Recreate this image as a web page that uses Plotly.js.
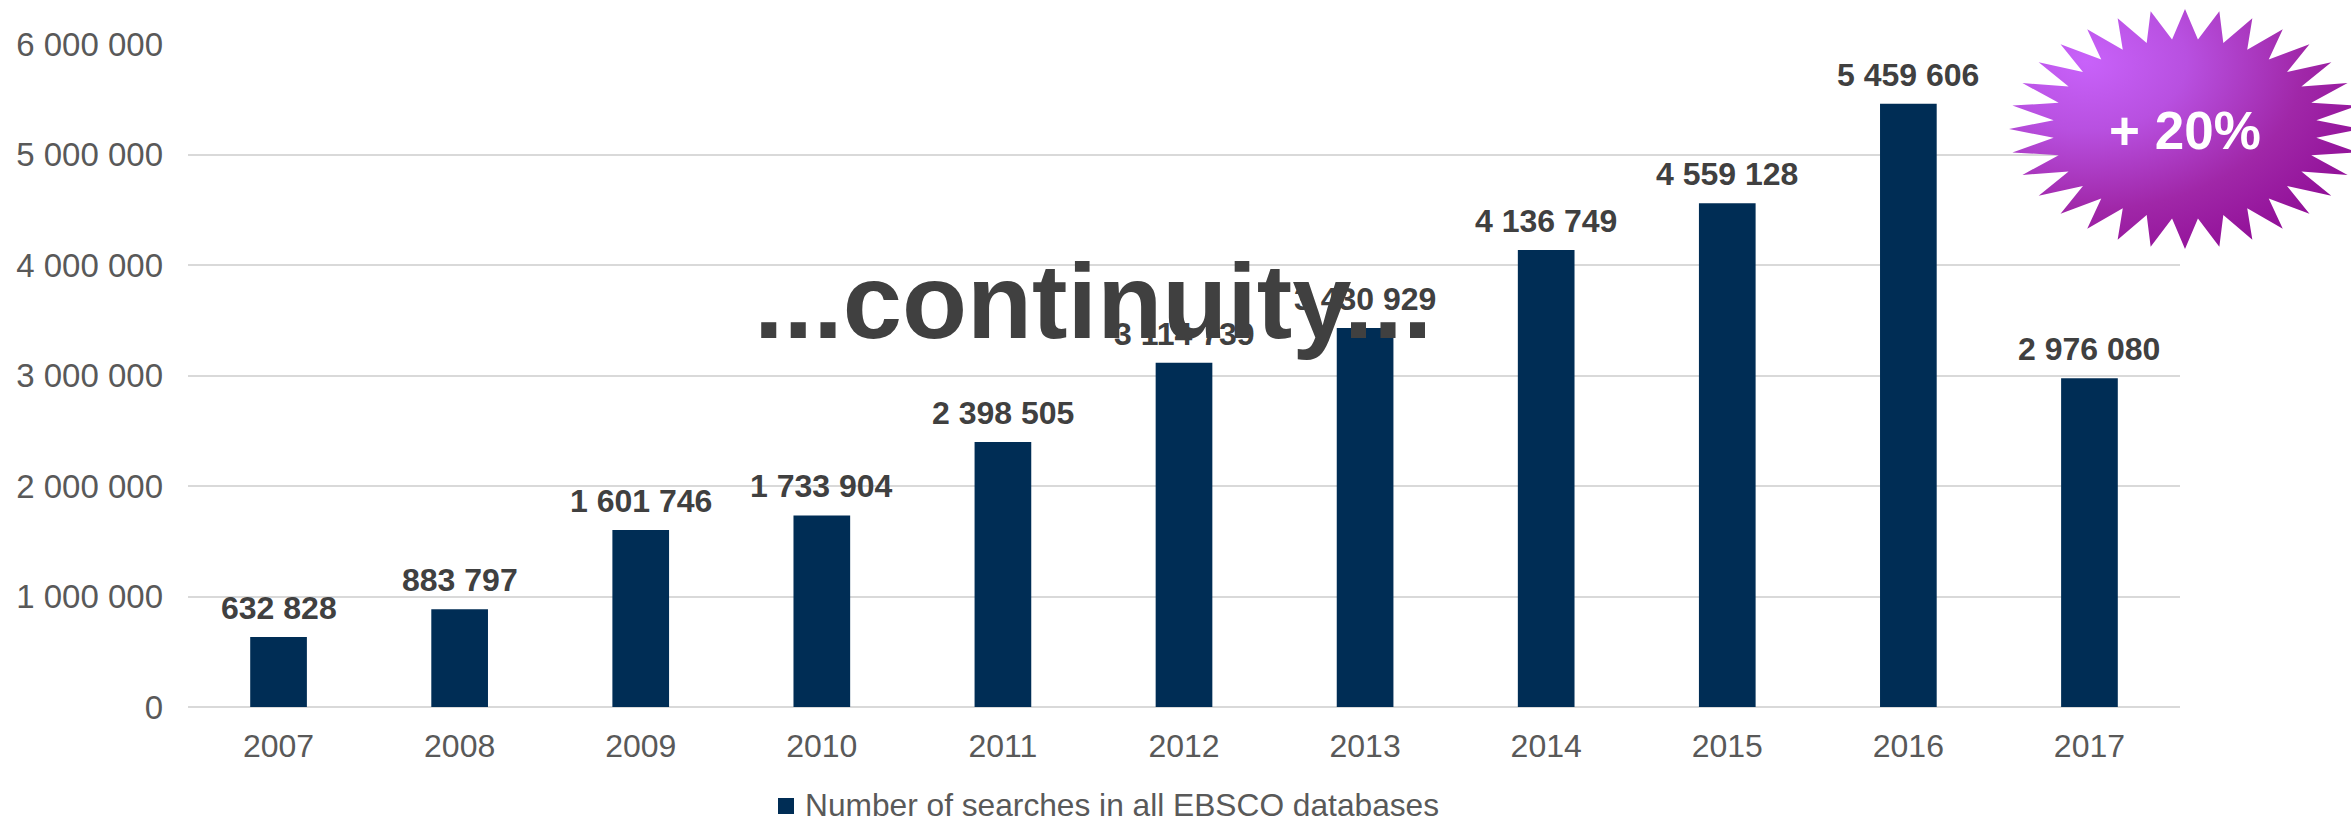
<!DOCTYPE html>
<html><head><meta charset="utf-8">
<script src="https://cdn.plot.ly/plotly-3.0.1.min.js"></script>
<style>html,body{margin:0;padding:0;background:#fff;overflow:hidden}#c{width:2351px;height:819px}</style>
</head><body><div id="c"></div>
<script>
const years = ['2007','2008','2009','2010','2011','2012','2013','2014','2015','2016','2017'];
const searches = [632828,883797,1601746,1733904,2398505,3114739,3430929,4136749,4559128,5459606,2976080];
const seriesName = 'Number of searches in all EBSCO databases';
const yTicks = [0,1000000,2000000,3000000,4000000,5000000,6000000];
const overlayText = '...continuity...';
const badgeText = '+ 20%';

const W=2351,H=819,L=188,R=2351-2180,T=44,B=819-707;
const pw=W-L-R,ph=H-T-B;
const px=x=>(x-L)/pw, py=y=>1-(y-T)/ph;
const fmt=v=>String(v).replace(/\B(?=(\d{3})+$)/g,' ');
const FONT='"Liberation Sans", Arial, sans-serif';

function starSvg(){
  const w=352,h=240,n=32,pts=[];
  for(let i=0;i<2*n;i++){
    const a=Math.PI*i/n, k=i%2?0.75:1;
    pts.push((w/2+k*w/2*Math.sin(a)).toFixed(2)+','+(h/2-k*h/2*Math.cos(a)).toFixed(2));
  }
  const s='<svg xmlns="http://www.w3.org/2000/svg" width="'+w+'" height="'+h+'" viewBox="0 0 '+w+' '+h+'">'+
   '<defs><radialGradient id="g" cx="0.22" cy="0.22" r="0.95"><stop offset="0" stop-color="#C862FA"/><stop offset="0.3" stop-color="#B850E0"/>'+
   '<stop offset="0.65" stop-color="#A027A8"/><stop offset="1" stop-color="#8E0A94"/></radialGradient></defs>'+
   '<polygon fill="url(#g)" points="'+pts.join(' ')+'"/></svg>';
  return 'data:image/svg+xml;charset=utf-8,'+encodeURIComponent(s);
}

const labels=years.map((y,i)=>({x:i,y:searches[i],xref:'x',yref:'y',text:fmt(searches[i]),showarrow:false,
  xanchor:'center',yanchor:'bottom',yshift:10,borderpad:0,font:{family:FONT,size:32,color:'#404040',weight:700}}));

const data=[{type:'bar',x:years,y:searches,name:seriesName,marker:{color:'#002D55'},showlegend:true,hoverinfo:'skip'}];
const layout={
  width:W,height:H,paper_bgcolor:'#fff',plot_bgcolor:'#fff',
  margin:{l:L,r:R,t:T,b:B,pad:0,autoexpand:false},
  font:{family:FONT,color:'#595959',size:32},
  bargap:0.687,
  xaxis:{type:'category',categoryorder:'array',categoryarray:years,range:[-0.5,10.5],tickfont:{size:32,color:'#595959'},showgrid:false,zeroline:false,showline:false,ticks:'',ticklabelstandoff:17,automargin:false},
  yaxis:{range:[0,6000000],tickvals:yTicks,ticktext:yTicks.map(fmt),tickfont:{size:33,color:'#595959'},showgrid:true,gridcolor:'#D9D9D9',gridwidth:2,
    zeroline:true,zerolinecolor:'#D9D9D9',zerolinewidth:2,showline:false,ticks:'',ticklabelstandoff:24,automargin:false},
  showlegend:true,
  legend:{orientation:'h',x:px(765),xanchor:'left',y:py(777),yanchor:'top',font:{size:31.7,color:'#595959'},itemwidth:30,bgcolor:'rgba(0,0,0,0)'},
  shapes:[{type:'rect',xref:'paper',yref:'paper',x0:px(778),x1:px(794),y0:py(798),y1:py(814),fillcolor:'#002D55',line:{width:0},layer:'above'}],
  images:[{source:starSvg(),xref:'paper',yref:'paper',x:px(2009),y:py(9),sizex:352/pw,sizey:240/ph,xanchor:'left',yanchor:'top',sizing:'stretch',layer:'above'}],
  annotations:labels.concat([
    {xref:'paper',yref:'paper',x:px(1092.5),y:py(302),text:overlayText,showarrow:false,xanchor:'center',yanchor:'middle',borderpad:0,font:{family:FONT,size:106.5,color:'#404040',weight:700}},
    {xref:'paper',yref:'paper',x:px(2185),y:py(130),text:badgeText,showarrow:false,xanchor:'center',yanchor:'middle',borderpad:0,font:{family:FONT,size:53,color:'#FFFFFF',weight:700}}
  ])
};
Plotly.newPlot('c',data,layout,{displayModeBar:false,staticPlot:true});
</script></body></html>
